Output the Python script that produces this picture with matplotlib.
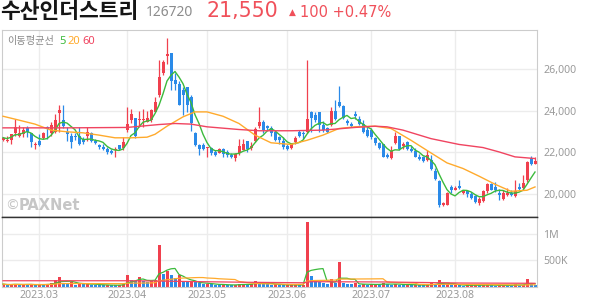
import matplotlib
matplotlib.use("Agg")
import matplotlib.pyplot as plt
import numpy as np
import pandas as pd
from matplotlib.ticker import FuncFormatter

plt.rcParams['font.family'] = ['Noto Sans CJK KR', 'DejaVu Sans']

# ── Data ──────────────────────────────────────────────────────────────────────
opens = [
    22600, 22550, 22600, 22900, 22800, 22850, 23150, 22900, 22350, 22550,
    22700, 23200, 22900, 22950, 23900, 23550, 22950, 22800, 22800, 22800,
    22650, 22800, 22900, 22550, 22350, 22250, 22150, 22050, 22100, 22350,
    22200, 23050, 23550, 23650, 23550, 23550, 23450, 23550, 23950, 24750,
    25800, 26650, 26800, 25500, 25300, 25000, 25150, 24650, 22900, 22350,
    22350, 22200, 22200, 22000, 21950, 22150, 22000, 21850, 21700, 21950,
    22100, 22550, 22200, 22550, 23250, 23450, 23250, 23150, 22950, 22750,
    22550, 22300, 22200, 22500, 22950, 22900, 22950, 23950, 23800, 23950,
    23300, 23150, 23300, 24000, 24400, 24200, 23500, 23350, 23850, 23600,
    23350, 23050, 23050, 22700, 22450, 22400, 21850, 21700, 22450, 22800,
    22300, 22500, 22150, 22050, 21750, 21750, 21600, 21600, 21100, 20600,
    19450, 19450, 20300, 20150, 20350, 20050, 20100, 20000, 19900, 19550,
    19650, 20100, 20450, 20300, 20050, 19750, 19950, 20050, 19900, 20300,
    20250, 20650, 21700, 21450,
]
highs = [
    22750, 22800, 22850, 23600, 23300, 23200, 23250, 22900, 22500, 22850,
    22950, 23250, 23450, 23850, 24250, 24250, 23200, 22900, 22900, 23200,
    22750, 23200, 22950, 22650, 22400, 22400, 22250, 22150, 22250, 22350,
    22750, 24200, 24100, 23650, 24000, 24100, 24000, 24100, 24650, 26450,
    26450, 27500, 26800, 25800, 25450, 25150, 25150, 24750, 22950, 22400,
    22450, 22250, 22250, 22100, 22200, 22200, 22100, 21950, 21950, 22650,
    22650, 22550, 22500, 23200, 24200, 23550, 23300, 23250, 23050, 22800,
    22750, 22400, 22450, 22800, 23050, 23000, 26450, 24000, 23950, 23950,
    23500, 23200, 24200, 24500, 25200, 24250, 23600, 23450, 24000, 23750,
    23550, 23200, 23150, 22750, 22500, 22400, 21950, 22300, 22950, 22800,
    22500, 22550, 22300, 22200, 21900, 21800, 22100, 21850, 21250, 20650,
    19600, 20100, 20400, 20350, 20650, 20150, 20150, 20100, 19950, 19850,
    20150, 20500, 20500, 20550, 20200, 20150, 20250, 20150, 20650, 20500,
    20900, 21550, 21800, 21750,
]
lows = [
    22550, 22500, 22400, 22800, 22750, 22750, 22750, 22250, 22150, 22300,
    22650, 22650, 22800, 22900, 22950, 23150, 22550, 22200, 22600, 22350,
    22400, 22550, 22500, 22400, 22150, 22100, 21900, 21900, 21750, 22100,
    22100, 22950, 23400, 22700, 23200, 23200, 23450, 23450, 23950, 24650,
    25700, 26250, 25000, 25000, 24250, 23800, 23950, 23000, 22300, 21850,
    22100, 21750, 21850, 21800, 21950, 21750, 21750, 21700, 21550, 21850,
    22100, 22000, 22100, 22500, 23150, 22900, 23050, 22800, 22550, 22400,
    22150, 22100, 22150, 22400, 22750, 22650, 22900, 22950, 23450, 22950,
    22950, 22900, 23250, 23550, 24200, 23600, 23300, 23200, 23600, 23300,
    22900, 22750, 22650, 22350, 22150, 21750, 21700, 21650, 22400, 22100,
    22150, 22100, 22000, 21750, 21600, 21500, 21550, 21150, 20650, 19350,
    19400, 19450, 20050, 20150, 20200, 20000, 19850, 19750, 19550, 19450,
    19600, 20050, 20150, 20100, 19700, 19700, 19900, 19900, 19850, 20150,
    20200, 20550, 21400, 21450,
]
closes = [
    22700, 22600, 22850, 23200, 22900, 23050, 22950, 22500, 22400, 22350,
    22900, 23100, 23300, 23550, 24050, 23250, 22850, 22500, 22750, 22400,
    22500, 22950, 22550, 22450, 22250, 22150, 22000, 21950, 22150, 22150,
    22500, 23350, 23850, 22800, 23600, 23600, 23650, 24050, 24400, 25600,
    26350, 26750, 25450, 25300, 24250, 24750, 24250, 23400, 22350, 22150,
    22150, 22250, 21950, 21850, 22150, 21900, 21850, 21750, 21900, 22300,
    22400, 22150, 22300, 23100, 23450, 23050, 23150, 22900, 22600, 22600,
    22250, 22150, 22400, 22700, 22800, 22850, 23600, 23650, 23550, 23300,
    23050, 22950, 24000, 23600, 24200, 23650, 23400, 23250, 23750, 23350,
    22950, 22800, 22750, 22450, 22200, 21750, 21750, 22050, 22800, 22150,
    22400, 22150, 22050, 21750, 21650, 21550, 21850, 21200, 20700, 19450,
    19550, 20050, 20150, 20250, 20250, 20100, 20000, 19800, 19600, 19750,
    20100, 20450, 20150, 20150, 19950, 20050, 20050, 19950, 20100, 20200,
    20500, 21500, 21450, 21550,
]
volumes_k = [
    55, 38, 45, 60, 40, 50, 40, 55, 35, 45,
    40, 60, 75, 125, 180, 80, 75, 85, 40, 75,
    50, 60, 45, 40, 35, 30, 40, 35, 30, 35,
    60, 220, 125, 120, 180, 110, 95, 110, 140, 790,
    250, 300, 235, 175, 220, 95, 90, 95, 90, 70,
    50, 60, 55, 45, 35, 45, 40, 35, 40, 55,
    65, 45, 50, 110, 75, 60, 55, 45, 50, 40,
    35, 35, 40, 50, 35, 40, 1230, 210, 125, 95,
    75, 60, 145, 80, 470, 75, 55, 50, 70, 45,
    50, 45, 50, 55, 45, 75, 50, 45, 60, 45,
    40, 45, 35, 40, 35, 30, 45, 70, 55, 125,
    50, 55, 35, 40, 35, 25, 30, 35, 40, 30,
    35, 45, 30, 25, 30, 35, 30, 25, 60, 30,
    45, 145, 50, 45,
]

# moving-average lines (index, value)
ma20_idx = [0, 3, 8, 12, 16, 20, 24, 28, 32, 36, 38, 41, 45, 48, 51, 55, 59, 63,
            67, 72, 76, 80, 84, 88, 93, 97, 102, 107, 111, 115, 119, 123, 127,
            131, 133]
ma20_val = [23730, 23590, 23350, 23060, 22980, 22930, 22820, 22690, 22690, 22720,
            22860, 23250, 23700, 23940, 23940, 23730, 23380, 22820, 22450, 22370,
            22570, 22820, 23140, 23220, 23250, 23140, 22570, 21960, 21480, 21210,
            20840, 20450, 20110, 20160, 20320]
ma60_idx = [0, 16, 31, 39, 43, 47, 51, 59, 64, 72, 80, 88, 93, 96, 100, 107, 114,
            120, 124, 128, 133]
ma60_val = [23170, 23170, 23190, 23330, 23380, 23350, 23220, 23090, 23030, 23030,
            23060, 23190, 23250, 23220, 23060, 22650, 22370, 22220, 22010, 21770,
            21690]
vma60_idx = [0, 31, 39, 45, 60, 75, 77, 95, 100, 115, 133]
vma60_val = [118, 118, 112, 105, 90, 80, 100, 95, 90, 75, 70]

month_idx = [9, 31, 51, 71, 92, 113]
month_labels = ["2023.03", "2023.04", "2023.05", "2023.06", "2023.07", "2023.08"]
price_ticks = [20000, 22000, 24000, 26000]
vol_ticks = [500000, 1000000]
vol_tick_labels = ["500K", "1M"]

# ── Style ─────────────────────────────────────────────────────────────────────
RED = "#f0404e"
BLUE = "#2a8ae8"
C_MA5 = "#3cba3c"
C_MA20 = "#ffaa2c"
C_MA60 = "#f04460"
GRID = "#ececec"
TICK = "#9a9a9a"

W, H = 594, 304


def fx(px):
    return px / W


def fy(py):
    return 1 - py / H


fig = plt.figure(figsize=(W / 100, H / 100), dpi=100)
fig.patch.set_facecolor("white")

ax = fig.add_axes([fx(2), fy(217), fx(537) - fx(2), fy(30) - fy(217)])
axv = fig.add_axes([fx(2), fy(287), fx(537) - fx(2), fy(217) - fy(287)], sharex=ax)

x = np.arange(len(closes))
o = np.array(opens)
c = np.array(closes)
colors = np.where(c >= o, RED, BLUE)

# ── Price panel ───────────────────────────────────────────────────────────────
ax.vlines(x, lows, highs, colors=colors, lw=0.9, zorder=2)
body_lo = np.minimum(o, c)
body_h = np.maximum(np.abs(c - o), 50)
ax.bar(x, body_h, bottom=body_lo, width=0.75, color=colors, lw=0, zorder=3)

ma5 = pd.Series(closes).rolling(5, min_periods=1).mean()
ax.plot(x, ma5, color=C_MA5, lw=1.0, zorder=4)
ax.plot(ma20_idx, ma20_val, color=C_MA20, lw=1.0, zorder=4)
ax.plot(ma60_idx, ma60_val, color=C_MA60, lw=1.0, zorder=4)

ax.set_xlim(-0.25, 133.5)
ax.set_ylim(18870, 27890)
ax.set_xticks(month_idx)
ax.set_yticks(price_ticks)
ax.yaxis.tick_right()
ax.yaxis.set_major_formatter(FuncFormatter(lambda v, _: f"{int(v):,}"))
ax.tick_params(axis="both", length=0, labelbottom=False)
ax.tick_params(axis="y", pad=4.5, labelsize=7.6, labelcolor=TICK)
for lab in ax.get_yticklabels():
    lab.set_family("Noto Sans")
ax.grid(True, color=GRID, lw=1, zorder=0)
for s in ("left", "top", "right"):
    ax.spines[s].set_color("#cccccc")
    ax.spines[s].set_linewidth(0.8)
ax.spines["bottom"].set_color("#333333")
ax.spines["bottom"].set_linewidth(1.0)

# ── Volume panel ──────────────────────────────────────────────────────────────
vol = np.array(volumes_k) * 1000
vcolors = [RED] + [RED if vol[i] >= vol[i - 1] else BLUE for i in range(1, len(vol))]
axv.bar(x, vol, width=0.75, color=vcolors, lw=0, zorder=2)
vs = pd.Series(vol)
axv.plot(x, vs.rolling(5, min_periods=1).mean(), color=C_MA5, lw=0.9, zorder=3)
axv.plot(x, vs.rolling(20, min_periods=1).mean(), color=C_MA20, lw=0.9, zorder=3)
axv.plot(vma60_idx, np.array(vma60_val) * 1000, color=C_MA60, lw=0.9, zorder=3)

axv.set_ylim(0, 1320000)
axv.set_yticks(vol_ticks)
axv.set_yticklabels(vol_tick_labels)
axv.yaxis.tick_right()
axv.set_xticks(month_idx)
axv.set_xticklabels(month_labels)
axv.tick_params(axis="both", length=0, labelsize=7.6, labelcolor=TICK)
axv.tick_params(axis="y", pad=4.5)
axv.tick_params(axis="x", pad=2.5)
for lab in axv.get_yticklabels() + axv.get_xticklabels():
    lab.set_family("Noto Sans")
axv.grid(True, color=GRID, lw=1, zorder=0)
for s in ("left", "right", "bottom"):
    axv.spines[s].set_color("#cccccc")
    axv.spines[s].set_linewidth(0.8)
axv.spines["top"].set_color("#333333")
axv.spines["top"].set_linewidth(1.0)

# ── Header & annotations ──────────────────────────────────────────────────────
fig.text(fx(0), fy(12), "수산인더스트리", fontsize=15.5, weight="bold",
         color="#151515", va="center", ha="left")
fig.text(fx(146), fy(12.5), "126720", fontsize=10, color="#8c8c8c",
         va="center", ha="left", family="Noto Sans")
fig.text(fx(207), fy(11), "21,550", fontsize=14.8, color="#f0505a",
         va="center", ha="left", family="DejaVu Sans")
fig.text(fx(289), fy(12), "▲", fontsize=6.5, color="#f0505a",
         va="center", ha="left", family="DejaVu Sans")
fig.text(fx(300), fy(12.5), "100 +0.47%", fontsize=10.5, color="#f0505a",
         va="center", ha="left", family="DejaVu Sans")

fig.text(fx(7), fy(41), "이동평균선", fontsize=7.3, color="#8a8a8a",
         va="center", ha="left")
fig.text(fx(59), fy(41), "5", fontsize=8, color=C_MA5, weight="semibold",
         va="center", ha="left", family="Noto Sans")
fig.text(fx(67.5), fy(41), "20", fontsize=8, color=C_MA20, weight="semibold",
         va="center", ha="left", family="Noto Sans")
fig.text(fx(82.5), fy(41), "60", fontsize=8, color=C_MA60, weight="semibold",
         va="center", ha="left", family="Noto Sans")

fig.text(fx(5), fy(206), "©", fontsize=10, color="#c6c6c6",
         va="center", ha="left", family="DejaVu Sans")
fig.text(fx(19), fy(206), "PAXNet", fontsize=10.5, weight="bold",
         color="#c6c6c6", va="center", ha="left", family="DejaVu Sans")

fig.savefig("out.png", dpi=100, facecolor="white")
